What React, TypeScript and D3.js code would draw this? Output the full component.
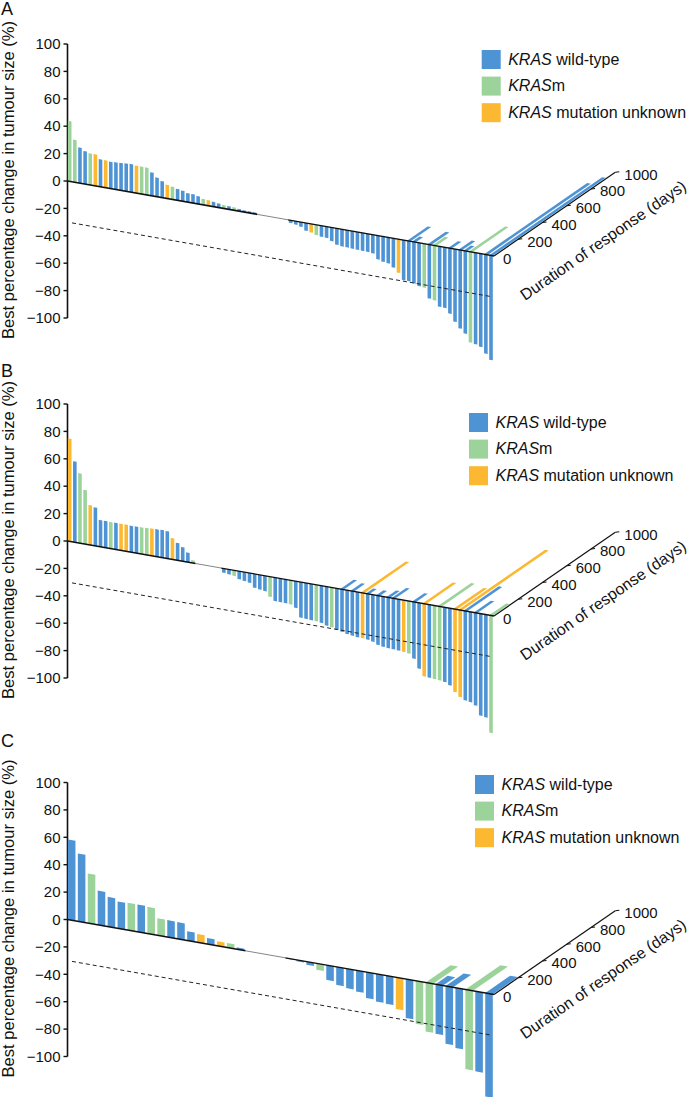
import React from "react";
import * as d3 from "d3";

type Cat = "W" | "M" | "U";

// ---------------- Panel A ----------------
const typesA: Cat[] = [
  "M","M","W","W","M","U","W","U","W","W","W","W","W","U","M","M","W","W","W","U",
  "M","W","W","W","W","W","M","U","W","W","M","W","M","W","W","W","W","W","W","W",
  "W","W","W","W","W","W","W","U","M","W","W","W","W","W","W","W","W","W","W","W",
  "W","W","W","W","U","W","W","W","W","M","W","M","W","W","W","W","W","W","M","W",
  "W","W","W"
];
const changeA: number[] = [
  44, 31, 26, 24, 23, 23, 20, 20, 19.5, 19.8, 20, 20.3, 20.5, 20, 20, 19.9, 17, 14, 12, 10,
  9.3, 8.3, 7.7, 6.5, 6.4, 5.6, 4.3, 4, 3.5, 3, 2.5, 2.3, 2.1, 1.6, 1.3, 1.2, 1.1, 0, 0, 0,
  0, 0, 0, -2, -2.5, -3.4, -5.7, -6.3, -7.5, -8.1, -8.3, -10, -12, -12.5, -12.6, -12.8, -13, -13.1, -13.2, -13.6,
  -17.4, -18.4, -19, -21.3, -24.5, -29.2, -29.3, -30.3, -31.6, -32, -39.3, -40, -44, -44.2, -47.7, -53, -57.3, -60.3, -66.2, -66.8,
  -68, -72.3, -76.3
];
const durationA: [number, number][] = [
  [66, 170], [67, 60], [70, 150], [71, 100], [74, 80], [76, 110], [77, 60], [78, 300], [81, 850], [82, 930]
];

// ---------------- Panel B ----------------
const typesB: Cat[] = [
  "U","W","M","M","U","W","W","W","M","W","U","U","W","W","M","M","U","W","W","W",
  "U","W","W","W","M","W","W","W","W","W","W","W","M","W","W","W","W","W","W","M",
  "W","W","W","M","W","W","W","W","M","W","W","M","W","W","W","W","W","U","W","W",
  "W","W","W","W","W","U","M","W","W","U","W","M","M","W","W","U","U","W","W","W",
  "W","W","M"
];
const changeB: number[] = [
  75, 59, 51, 39.5, 29, 28, 19.5, 19.5, 19.3, 19.4, 19.4, 19.5, 19.2, 19.3, 19.5, 19.7, 19.9, 20, 20.2, 19.9,
  15.5, 12.7, 10.2, 7, 2, 0, 0, 0, 0, 0, -3.1, -3.6, -4.1, -5.9, -6.5, -7.1, -10.1, -10.7, -11.2, -14.7,
  -17.2, -17.3, -17.4, -17.6, -19.5, -26, -26.2, -26.5, -26.6, -27.2, -28.5, -29, -30, -31, -32, -32.5, -33, -33, -33.5, -34.3,
  -36, -36.7, -37, -37.2, -37.4, -37.8, -38.3, -41.4, -48, -53, -53.3, -53.6, -54, -54.5, -56.3, -60.5, -63.5, -65.3, -65.9, -67.7,
  -74.4, -75, -85.7
];
const durationB: [number, number][] = [
  [53, 110], [55, 90], [57, 371], [58, 60], [60, 60], [62, 80], [63, 120], [67, 100], [69, 250],
  [72, 275], [75, 250], [76, 715], [77, 290], [79, 140], [82, 140]
];

// ---------------- Panel C ----------------
const typesC: Cat[] = [
  "W","W","M","W","W","W","M","W","M","M","W","W","W","U","W","U","M","W","W","W",
  "W","W","W","W","W","M","W","W","W","W","W","W","W","U","W","M","M","W","W","W",
  "M","W","W"
];
const changeC: number[] = [
  58.5, 49.5, 36.2, 25, 21.7, 19.6, 19.9, 20, 19.5, 12.5, 12.4, 12.2, 6.8, 6.1, 4.4, 3.3, 3.3, 1.4, 0, 0,
  0, 0, -0.5, -1, -2.4, -4.7, -10.8, -13.2, -14.3, -15.5, -19, -20.2, -20.6, -23.2, -28.5, -31.4, -35.7, -36.1, -42.1, -44,
  -58.1, -58.5, -75.5
];
const durationC: [number, number][] = [
  [36, 206], [37, 100], [38, 150], [40, 289], [42, 206]
];

const yTicks = [100, 80, 60, 40, 20, 0, -20, -40, -60, -80, -100];
const durTicks = [0, 200, 400, 600, 800, 1000];
const legendCats: Cat[] = ["W", "M", "U"];
const legendSuffix = [" wild-type", "m", " mutation unknown"];
const geneName = "KRAS";
const yTitle = "Best percentage change in tumour size (%)";
const durTitle = "Duration of response (days)";

const FONT = "Helvetica, Arial, 'Liberation Sans', sans-serif";
const COLOR: Record<Cat, string> = { W: "#4e94d5", M: "#9bd39a", U: "#fbb830" };

interface PanelProps {
  oy: number;
  label: string;
  labelY: number;
  types: Cat[];
  changes: number[];
  durations: [number, number][];
  pad: number;
  legendX: number;
  legendY: number;
}

function Panel({ oy, label, labelY, types, changes, durations, pad, legendX, legendY }: PanelProps) {
  const axisX = 67.5;
  const xEnd = 494;
  const y = d3.scaleLinear().domain([-100, 100]).range([318 + oy, 44 + oy]);
  const zeroY = y(0);
  const slope = 75 / (xEnd - axisX);
  const base = (x: number) => zeroY + (x - axisX) * slope;
  const ky = y(0) - y(1);
  const n = changes.length;
  const band = d3
    .scaleBand<number>()
    .domain(d3.range(n))
    .range([axisX + 0.4, xEnd - 1.2])
    .paddingInner(pad)
    .paddingOuter(0);
  const bw = band.bandwidth();
  const step = band.step();
  const dur = d3.scaleLinear().domain([0, 1000]).range([0, 1]);
  const DVX = 121.3;
  const DVY = -83.8;
  const dOrigin: [number, number] = [xEnd, base(xEnd)];
  const dashOff = y(-30) - y(0);
  const angle = (Math.atan2(DVY, DVX) * 180) / Math.PI;

  const firstZero = changes.findIndex((v) => v === 0);
  const lastZero = changes.length - 1 - [...changes].reverse().findIndex((v) => v === 0);
  const gapX0 = firstZero >= 0 ? band(firstZero)! - (step - bw) / 2 : xEnd;
  const gapX1 = firstZero >= 0 ? band(lastZero)! + bw + (step - bw) / 2 : xEnd;

  const barPoly = (i: number, v: number) => {
    const x0 = band(i)!;
    const x1 = x0 + bw;
    const h = v * ky;
    return [
      [x0, base(x0)],
      [x1, base(x1)],
      [x1, base(x1) - h],
      [x0, base(x0) - h],
    ]
      .map((p) => p.join(","))
      .join(" ");
  };
  const durPoly = (i: number, d: number) => {
    const x0 = band(i)!;
    const x1 = x0 + bw;
    const t = dur(d);
    const vx = DVX * t;
    const vy = DVY * t;
    return [
      [x0, base(x0)],
      [x1, base(x1)],
      [x1 + vx, base(x1) + vy],
      [x0 + vx, base(x0) + vy],
    ]
      .map((p) => p.join(","))
      .join(" ");
  };

  return (
    <g fontFamily={FONT}>
      <text x={1} y={labelY} fontSize={18} fill="#111">
        {label}
      </text>
      <text
        transform={`translate(13.5,${zeroY - 1}) rotate(-90)`}
        textAnchor="middle"
        fontSize={16.6}
        fill="#111"
      >
        {yTitle}
      </text>
      <line x1={axisX} x2={axisX} y1={y(100)} y2={y(-100)} stroke="#111" strokeWidth={1.6} />
      {yTicks.map((t) => (
        <g key={t}>
          <line x1={axisX - 4} x2={axisX} y1={y(t)} y2={y(t)} stroke="#111" strokeWidth={1.4} />
          <text x={axisX - 7} y={y(t) + 5.2} textAnchor="end" fontSize={15} fill="#111">
            {t < 0 ? "\u2212" + Math.abs(t) : t}
          </text>
        </g>
      ))}
      {durations.map(([i, d]) => (
        <polygon key={"d" + i} points={durPoly(i, d)} fill={COLOR[types[i]]} />
      ))}
      {changes.map((v, i) =>
        v === 0 ? null : <polygon key={"b" + i} points={barPoly(i, v)} fill={COLOR[types[i]]} />
      )}
      <line x1={axisX} y1={base(axisX)} x2={gapX0} y2={base(gapX0)} stroke="#111" strokeWidth={1.6} />
      <line x1={gapX0} y1={base(gapX0)} x2={gapX1} y2={base(gapX1)} stroke="#777" strokeWidth={0.9} />
      <line x1={gapX1} y1={base(gapX1)} x2={xEnd} y2={base(xEnd)} stroke="#111" strokeWidth={1.3} />
      <line
        x1={72}
        y1={base(72) + dashOff}
        x2={491}
        y2={base(491) + dashOff}
        stroke="#222"
        strokeWidth={1}
        strokeDasharray="4,3"
      />
      <line
        x1={dOrigin[0]}
        y1={dOrigin[1]}
        x2={dOrigin[0] + DVX * dur(1000)}
        y2={dOrigin[1] + DVY * dur(1000)}
        stroke="#111"
        strokeWidth={1.2}
      />
      {durTicks.map((t) => {
        const px = dOrigin[0] + DVX * dur(t);
        const py = dOrigin[1] + DVY * dur(t);
        return (
          <g key={"dt" + t}>
            {t > 0 && <line x1={px} y1={py} x2={px + 4} y2={py - 0.5} stroke="#111" strokeWidth={1.1} />}
            <text x={px + 9} y={py + 7.5} fontSize={15} fill="#111">
              {t}
            </text>
          </g>
        );
      })}
      <text
        transform={`translate(525,${301 + oy}) rotate(${angle})`}
        fontSize={16}
        fill="#111"
      >
        {durTitle}
      </text>
      {legendCats.map((c, k) => (
        <g key={"lg" + c}>
          <rect x={legendX} y={legendY + k * 26.6} width={19} height={19} fill={COLOR[c]} />
          <text x={legendX + 26.5} y={legendY + k * 26.6 + 14.5} fontSize={16} fill="#111">
            <tspan fontStyle="italic">{geneName}</tspan>
            {legendSuffix[k]}
          </text>
        </g>
      ))}
    </g>
  );
}

export default function App() {
  return (
    <svg
      width={691}
      height={1097}
      viewBox="0 0 691 1097"
      style={{ position: "absolute", left: 0, top: 0, background: "#fff" }}
    >
      <rect width={691} height={1097} fill="#fff" />
      <Panel oy={0} label="A" labelY={15} types={typesA} changes={changeA} durations={durationA} pad={0.3} legendX={481.7} legendY={50} />
      <Panel oy={360} label="B" labelY={377} types={typesB} changes={changeB} durations={durationB} pad={0.3} legendX={469} legendY={413} />
      <Panel oy={738.5} label="C" labelY={747} types={typesC} changes={changeC} durations={durationC} pad={0.24} legendX={475} legendY={775} />
    </svg>
  );
}
